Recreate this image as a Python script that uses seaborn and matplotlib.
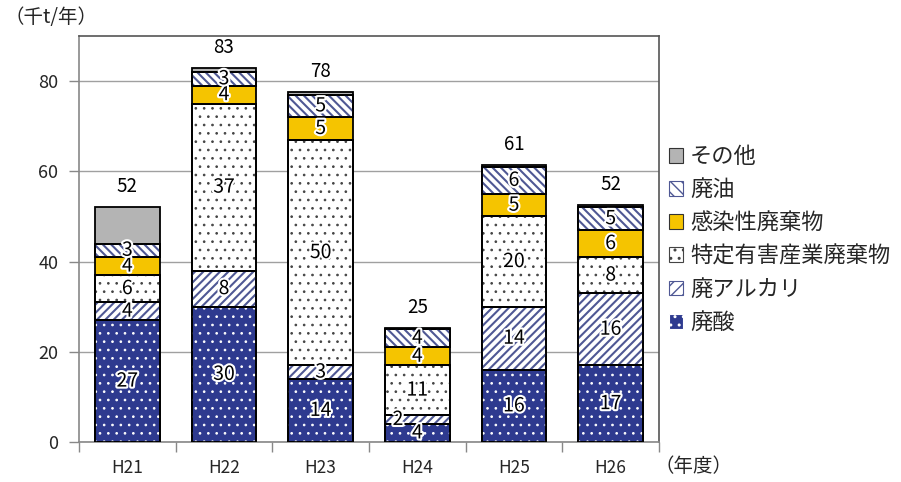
import matplotlib
matplotlib.use("Agg")
import matplotlib.pyplot as plt
import matplotlib.patheffects as pe
from matplotlib.patches import Rectangle, Patch
import seaborn as sns

# ─────────────────────────────────────────
# DADOS (千t/年)
# ─────────────────────────────────────────
years = ["H21", "H22", "H23", "H24", "H25", "H26"]
haisan = [27, 30, 14, 4, 16, 17]          # 廃酸
haialkali = [4, 8, 3, 2, 14, 16]          # 廃アルカリ
tokutei = [6, 37, 50, 11, 20, 8]          # 特定有害産業廃棄物
kansen = [4, 4, 5, 4, 5, 6]               # 感染性廃棄物
haiyu = [3, 3, 5, 4, 6, 5]                # 廃油
sonota = [8.1, 0.8, 0.6, 0.3, 0.3, 0.5]   # その他
totals = [52, 83, 78, 25, 61, 52]

sns.set_theme(style="white")
plt.rcParams["font.family"] = ["Noto Sans CJK JP", "DejaVu Sans"]

# nome, valores, cor, hatch, cor do hatch, espessura do hatch, rótulo?
series = [
    ("廃酸", haisan, "#2e3a8f", "..", "white", 0.7, True),
    ("廃アルカリ", haialkali, "white", "////", "#4f5894", 1.5, True),
    ("特定有害産業廃棄物", tokutei, "white", "..", "#444444", 0.7, True),
    ("感染性廃棄物", kansen, "#f5c400", "", None, 1.0, True),
    ("廃油", haiyu, "white", "\\\\\\\\", "#4f5894", 1.5, True),
    ("その他", sonota, "#b4b4b4", "", None, 1.0, False),
]

fig = plt.figure(figsize=(9.01, 4.82), dpi=100)
ax = fig.add_axes([79 / 901, 40 / 482, 580 / 901, 406 / 482])

bottom = [0.0] * len(years)
handles = []
for nome, vals, cor, hatch, hcor, hlw, rotulo in series:
    sns.barplot(x=years, y=vals, bottom=bottom, color=cor, saturation=1,
                width=0.67, edgecolor="black", linewidth=1.3, ax=ax, zorder=3)
    bars = ax.containers[-1]
    for i, bar in enumerate(bars):
        bar.set_facecolor(cor)
        if hatch:
            with plt.rc_context({"hatch.linewidth": hlw}):
                h = Rectangle((bar.get_x(), bar.get_y()), bar.get_width(),
                              bar.get_height(), fill=False, hatch=hatch,
                              edgecolor=hcor, linewidth=0, zorder=3.5)
            ax.add_patch(h)
            ax.add_patch(Rectangle((bar.get_x(), bar.get_y()), bar.get_width(),
                                   bar.get_height(), fill=False,
                                   edgecolor="black", linewidth=1.3, zorder=3.6))
        if rotulo:
            dx = -0.2 if (nome == "廃アルカリ" and years[i] == "H24") else 0
            ax.text(i + dx, bottom[i] + vals[i] / 2, f"{vals[i]:.0f}",
                    ha="center", va="center", fontsize=14, color="black",
                    zorder=5,
                    path_effects=[pe.withStroke(linewidth=3, foreground="white")])
    bottom = [b + v for b, v in zip(bottom, vals)]
    with plt.rc_context({"hatch.linewidth": 0.8}):
        handles.append(Patch(facecolor=cor, hatch=hatch[:3],
                             edgecolor=hcor if hcor else "#333333",
                             linewidth=0.8, label=nome))

for i, t in enumerate(totals):
    ax.text(i, bottom[i] + 4.6, str(t), ha="center", va="center",
            fontsize=13.5, color="black", clip_on=False)

ax.set_ylim(0, 90)
ax.set_xlim(-0.5, 5.5)
ax.set_yticks([0, 20, 40, 60, 80])
ax.yaxis.grid(True, color="#a0a0a0", linewidth=1)
ax.set_axisbelow(True)
ax.tick_params(axis="y", labelsize=13, length=7, width=1, color="#888888",
               direction="out", left=True, pad=8)
ax.set_xticks(range(len(years)))
ax.set_xticklabels(years, fontsize=12.5)
ax.set_xticks([i - 0.5 for i in range(len(years) + 1)], minor=True)
ax.tick_params(axis="x", which="major", length=0, pad=12)
ax.tick_params(axis="x", which="minor", length=7, width=1, color="#888888",
               bottom=True, direction="out")
for lado, sp in ax.spines.items():
    sp.set_visible(True)
    sp.set_color("#888888" if lado in ("left", "bottom") else "#555555")
    sp.set_linewidth(1.2)
ax.set_xlabel("")
ax.set_ylabel("")

fig.text(4 / 901, 1 - 18 / 482, "（千t/年）", fontsize=14, va="center", ha="left")
fig.text(655 / 901, 1 - 467 / 482, "（年度）", fontsize=14, va="center", ha="left")

fig.legend(handles=handles[::-1], loc="upper left",
           bbox_to_anchor=(660 / 901, 1 - 136 / 482), frameon=False,
           fontsize=16, handlelength=0.65, handleheight=0.65,
           handletextpad=0.3, labelspacing=0.46, borderaxespad=0)

fig.savefig("out.png", dpi=100)
